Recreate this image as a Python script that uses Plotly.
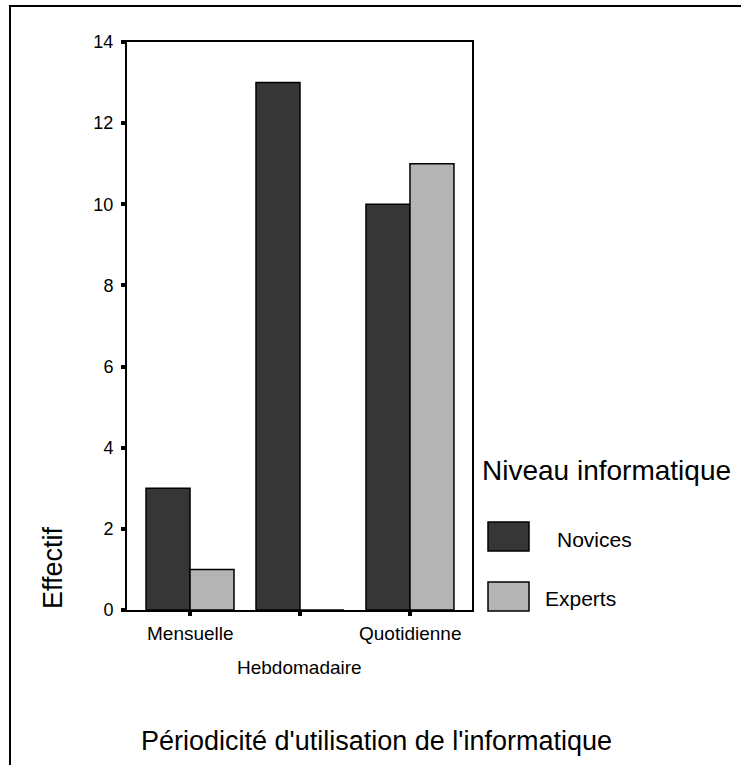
import plotly.graph_objects as go

categories = ["Mensuelle", "Hebdomadaire", "Quotidienne"]
novices = [3, 13, 10]
experts = [1, 0, 11]
series_names = ["Novices", "Experts"]
y_ticks = [0, 2, 4, 6, 8, 10, 12, 14]

FONT = "Liberation Sans, Arial, sans-serif"
DARK = "#363636"
LIGHT = "#b4b4b4"

# pixel -> paper helpers (plot area 127..472 x, 42..610 y)
L, R, T, B = 127, 472, 42, 610
def px(x):
    return (x - L) / (R - L)
def py(y):
    return (B - y) / (B - T)

fig = go.Figure()
fig.add_trace(go.Bar(x=list(range(len(categories))), y=novices, name=series_names[0],
                     marker=dict(color=DARK, line=dict(color="black", width=1.5)),
                     showlegend=False))
fig.add_trace(go.Bar(x=list(range(len(categories))), y=experts, name=series_names[1],
                     marker=dict(color=LIGHT, line=dict(color="black", width=1.5)),
                     showlegend=False))

annotations = []
# staggered category labels
label_rows = [py(633), py(667), py(633)]
for i, c in enumerate(categories):
    annotations.append(dict(x=i, y=label_rows[i], xref="x", yref="paper", text=c,
                            showarrow=False, xanchor="center", yanchor="middle",
                            font=dict(family=FONT, size=19, color="black")))
# axis titles
annotations.append(dict(x=px(53), y=py(568), xref="paper", yref="paper", text="Effectif",
                        textangle=-90, showarrow=False, xanchor="center", yanchor="middle",
                        font=dict(family=FONT, size=27, color="black")))
annotations.append(dict(x=px(376), y=py(741), xref="paper", yref="paper",
                        text="Périodicité d'utilisation de l'informatique",
                        showarrow=False, xanchor="center", yanchor="middle",
                        font=dict(family=FONT, size=27, color="black")))
# legend
annotations.append(dict(x=px(480), y=py(470), xref="paper", yref="paper",
                        text="Niveau informatique", showarrow=False,
                        xanchor="left", yanchor="middle",
                        font=dict(family=FONT, size=28, color="black")))
annotations.append(dict(x=px(555), y=py(539), xref="paper", yref="paper",
                        text=series_names[0], showarrow=False,
                        xanchor="left", yanchor="middle",
                        font=dict(family=FONT, size=21, color="black")))
annotations.append(dict(x=px(543), y=py(598), xref="paper", yref="paper",
                        text=series_names[1], showarrow=False,
                        xanchor="left", yanchor="middle",
                        font=dict(family=FONT, size=21, color="black")))

shapes = [
    dict(type="rect", xref="paper", yref="paper", x0=px(488), x1=px(529), y0=py(551), y1=py(522),
         fillcolor=DARK, line=dict(color="black", width=1.5)),
    dict(type="rect", xref="paper", yref="paper", x0=px(488), x1=px(529), y0=py(611), y1=py(582),
         fillcolor=LIGHT, line=dict(color="black", width=1.5)),
    # outer frame
    dict(type="rect", xref="paper", yref="paper", x0=px(10), x1=px(790), y0=py(820), y1=py(6),
         fillcolor="rgba(0,0,0,0)", line=dict(color="black", width=2), layer="below"),
]

fig.update_layout(
    width=741, height=765,
    margin=dict(l=L, r=741 - R, t=T, b=765 - B),
    paper_bgcolor="white", plot_bgcolor="white",
    barmode="group", bargap=0.2, bargroupgap=0,
    font=dict(family=FONT, size=18, color="black"),
    annotations=annotations, shapes=shapes,
    xaxis=dict(range=[-0.573, 2.564], tickvals=list(range(len(categories))),
               showticklabels=False, ticks="outside", ticklen=4, tickwidth=4,
               tickcolor="black", showline=True, linecolor="black", linewidth=2,
               mirror=True, showgrid=False, zeroline=False, fixedrange=True),
    yaxis=dict(range=[0, 14], tickvals=y_ticks, ticks="outside", ticklen=4, tickwidth=4,
               tickcolor="black", showline=True, linecolor="black", linewidth=2,
               mirror=True, showgrid=False, zeroline=False,
               tickfont=dict(family=FONT, size=18, color="black"),
               ticklabelstandoff=4),
)

fig.write_html("out.html", config={"displayModeBar": False},
               post_script="document.body.style.margin='0';document.body.style.overflow='hidden';")
